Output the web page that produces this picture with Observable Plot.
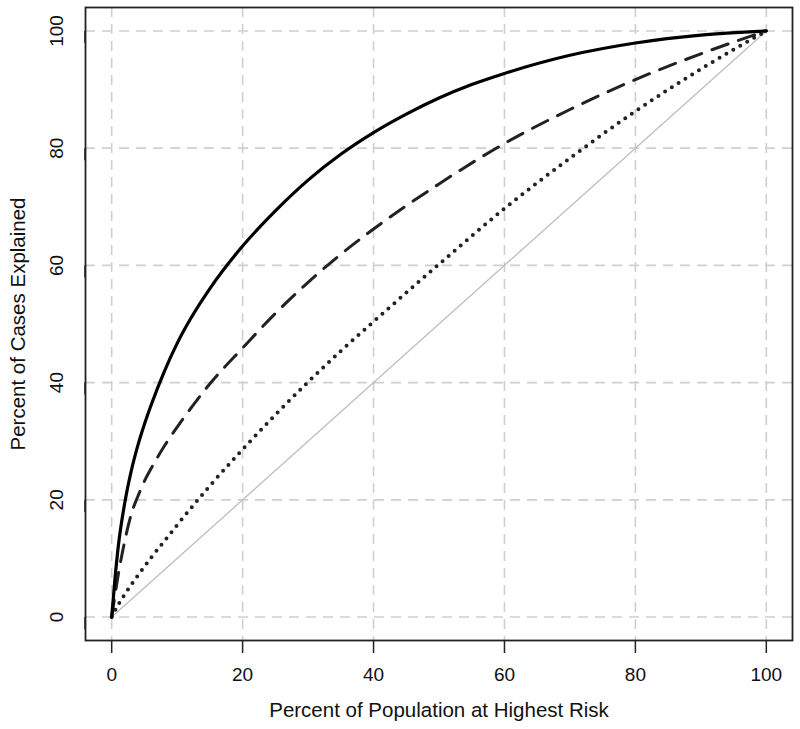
<!DOCTYPE html>
<html>
<head>
<meta charset="utf-8">
<script src="https://cdn.jsdelivr.net/npm/d3@7"></script>
<script src="https://cdn.jsdelivr.net/npm/@observablehq/plot@0.6"></script>
<style>
  html, body { margin: 0; padding: 0; background: #fff; }
  #chart svg { display: block; }
</style>
</head>
<body>
<div id="chart"></div>
<script>
// Tick values
const xTicks = [0, 20, 40, 60, 80, 100];
const yTicks = [0, 20, 40, 60, 80, 100];
const xTitle = ["Percent of Population at Highest Risk"];
const yTitle = ["Percent of Cases Explained"];

// Solid curve
const solidX = [0, 0.5, 1, 2, 3, 4, 5, 6, 8, 10, 12, 15, 20, 25, 30, 35, 40, 45, 50, 55, 60, 70, 80, 90, 100];
const solidY = [0, 6.5, 12, 19.5, 25, 29.3, 32.9, 36.1, 41.8, 46.7, 50.8, 56.05, 63.3, 69.3, 74.55, 78.95, 82.65, 85.8, 88.55, 90.85, 92.75, 95.85, 97.95, 99.3, 100];

// Dashed curve
const dashedX = [0, 1, 2, 3, 4, 5, 6, 8, 10, 12, 15, 20, 25, 30, 35, 40, 50, 60, 70, 80, 90, 100];
const dashedY = [0, 7.2, 13, 17.6, 20.6, 23.2, 25.3, 29.1, 32.4, 35.5, 39.8, 45.9, 51.8, 57.1, 61.9, 66.2, 73.9, 80.8, 86.6, 91.7, 96.1, 100];

// Dotted curve
const dottedX = [0, 1, 2, 4, 6, 8, 10, 15, 20, 25, 30, 35, 40, 50, 60, 70, 80, 90, 100];
const dottedY = [0, 2.1, 3.9, 7.1, 10.1, 12.9, 15.7, 22.4, 28.6, 34.5, 40.1, 45.4, 50.4, 60.2, 69.7, 78.3, 86.3, 93.5, 100];

// Reference diagonal
const diagX = [0, 100];
const diagY = [0, 100];

const toPts = (xs, ys) => xs.map((x, i) => ({x, y: ys[i]}));

const chart = Plot.plot({
  width: 800,
  height: 729,
  marginLeft: 85,
  marginRight: 8,
  marginTop: 7,
  marginBottom: 89,
  style: {fontFamily: "'Liberation Sans', Arial, Helvetica, sans-serif", color: "#111", background: "#fff"},
  x: {domain: [-4, 104]},
  y: {domain: [-4, 104]},
  marks: [
    Plot.gridX(xTicks, {stroke: "#cfcfcf", strokeOpacity: 1, strokeWidth: 1.6, strokeDasharray: "10,7"}),
    Plot.gridY(yTicks, {stroke: "#cfcfcf", strokeOpacity: 1, strokeWidth: 1.6, strokeDasharray: "10,7"}),
    Plot.line(toPts(diagX, diagY), {x: "x", y: "y", stroke: "#bdbdbd", strokeWidth: 1.3}),
    Plot.line(toPts(dottedX, dottedY), {x: "x", y: "y", curve: "monotone-x", stroke: "#222", strokeWidth: 4, strokeDasharray: "0,8", strokeLinecap: "round"}),
    Plot.line(toPts(dashedX, dashedY), {x: "x", y: "y", curve: "monotone-x", stroke: "#222", strokeWidth: 3, strokeDasharray: "17,11"}),
    Plot.line(toPts(solidX, solidY), {x: "x", y: "y", curve: "monotone-x", stroke: "#000", strokeWidth: 3.2}),
    Plot.frame({stroke: "#222", strokeWidth: 1.8}),
    Plot.axisX(xTicks, {tickSize: 13, tickPadding: 14, fontSize: 19, label: null, strokeWidth: 1.5, stroke: "#222"}),
    Plot.axisY(yTicks, {tickSize: 12, tickPadding: 17, fontSize: 19, label: null, strokeWidth: 1.5, stroke: "#222", rotate: -90, textAnchor: "middle", lineAnchor: "middle"}),
    Plot.text(xTitle, {frameAnchor: "bottom", dy: 70, text: d => d, fontSize: 20.5, lineAnchor: "middle", fill: "#111"}),
    Plot.text(yTitle, {frameAnchor: "left", dx: -67.5, text: d => d, fontSize: 20.5, rotate: -90, lineAnchor: "middle", textAnchor: "middle", fill: "#111"})
  ]
});
document.getElementById("chart").appendChild(chart);
</script>
</body>
</html>
